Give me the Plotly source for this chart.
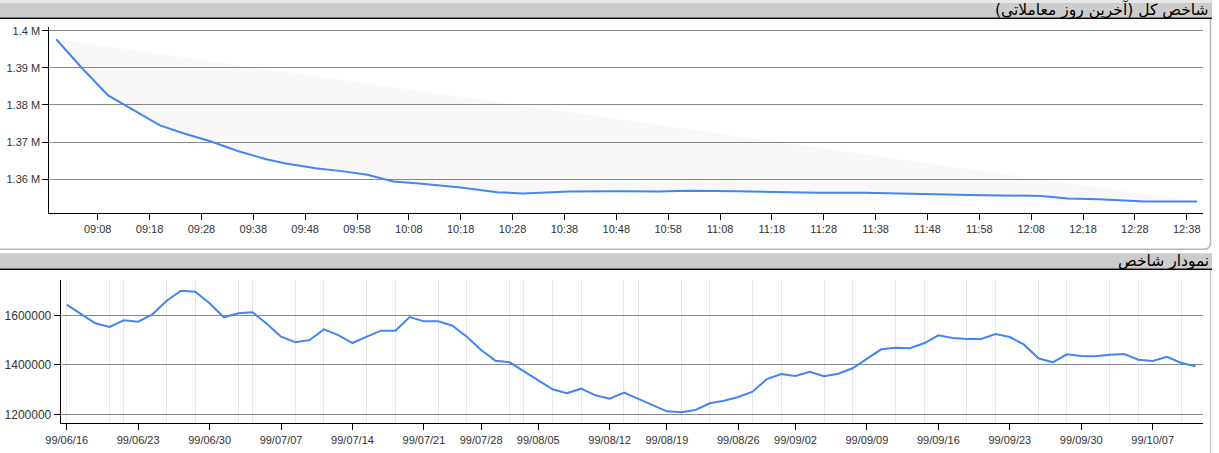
import plotly.graph_objects as go

W, H = 1219, 453

# ---------------- Top chart data (intraday index) ----------------
top_times = ["09:00:00", "09:05:00", "09:10:00", "09:14:00", "09:20:00", "09:24:30",
             "09:30:00", "09:35:00", "09:40:30", "09:44:00", "09:50:00", "09:55:00",
             "10:00:00", "10:05:00", "10:10:00", "10:18:00", "10:25:00", "10:30:00",
             "10:39:00", "10:49:00", "10:56:00", "11:02:00", "11:11:00", "11:27:00",
             "11:36:00", "11:56:00", "12:10:00", "12:15:00", "12:21:00", "12:30:00",
             "12:40:00"]
top_values = [1397700, 1389900, 1382600, 1379400, 1374500, 1372400,
              1370100, 1367600, 1365400, 1364300, 1363000, 1362200,
              1361200, 1359400, 1358900, 1357800, 1356500, 1356200,
              1356700, 1356800, 1356700, 1356900, 1356800, 1356400,
              1356400, 1355800, 1355500, 1354800, 1354600, 1354000,
              1354000]
top_ytick_vals = [1360000, 1370000, 1380000, 1390000, 1400000]
top_ytick_text = ["1.36 M", "1.37 M", "1.38 M", "1.39 M", "1.4 M"]
top_title = "شاخص کل (آخرین روز معاملاتی)"

# ---------------- Bottom chart data (daily index) ----------------
bottom_values = [1642800, 1605000, 1567700, 1552700, 1579800, 1574200, 1604000, 1659000,
                 1699400, 1695400, 1648500, 1592000, 1608000, 1612000, 1566000, 1513500,
                 1491000, 1500000, 1543000, 1520000, 1488000, 1513500, 1538000, 1538000,
                 1593000, 1575600, 1575600, 1558000, 1513500, 1460000, 1416700, 1410000,
                 1373800, 1337400, 1301000, 1285000, 1303500, 1276800, 1262700, 1287400,
                 1262000, 1237600, 1212100, 1208000, 1217400, 1244400, 1255000, 1270000,
                 1291400, 1342600, 1362800, 1354700, 1372000, 1353500, 1364000, 1385800,
                 1423400, 1462600, 1469000, 1466700, 1486900, 1519200, 1508300, 1504300,
                 1504300, 1524500, 1512300, 1481300, 1426300, 1410000, 1442400, 1435600,
                 1434300, 1440800, 1443600, 1420600, 1415400, 1432700, 1407300, 1394000]
bottom_days = list(range(len(bottom_values)))
bottom_tick_pos = [0, 5, 10, 15, 20, 25, 29, 33, 38, 42, 47, 51, 56, 61, 66, 71, 76]
bottom_tick_labels = ["99/06/16", "99/06/23", "99/06/30", "99/07/07", "99/07/14",
                      "99/07/21", "99/07/28", "99/08/05", "99/08/12", "99/08/19",
                      "99/08/26", "99/09/02", "99/09/09", "99/09/16", "99/09/23",
                      "99/09/30", "99/10/07"]
bottom_vgrid_pos = [0, 3, 4, 7, 9, 12, 13, 16, 18, 21, 23, 26, 28, 31, 32, 34, 36, 39, 40,
                    43, 45, 48, 50, 53, 55, 58, 60, 63, 65, 68, 70, 73, 75, 78]
bottom_ytick_vals = [1200000, 1400000, 1600000]
bottom_title = "نمودار شاخص"

DAY = "2020-01-01 "
top_x = [DAY + t for t in top_times]


def X(px):
    return px / W


def Y(py):
    return 1 - py / H


LINE = "#4285F4"
GRID = "#8a8a8a"
TICKFONT = dict(family="Liberation Sans, Arial, sans-serif", size=11, color="#333333")

fig = go.Figure()

# chord between first and last point (base of the shaded area)
fig.add_trace(go.Scatter(x=[top_x[0], top_x[-1]], y=[top_values[0], top_values[-1]],
                         mode="lines", line=dict(width=0, color="rgba(0,0,0,0)"),
                         hoverinfo="skip", showlegend=False, xaxis="x", yaxis="y"))
fig.add_trace(go.Scatter(x=top_x, y=top_values, mode="lines",
                         line=dict(color=LINE, width=2), fill="tonexty",
                         fillcolor="rgba(0,0,0,0.028)", showlegend=False,
                         xaxis="x", yaxis="y"))
fig.add_trace(go.Scatter(x=bottom_days, y=bottom_values, mode="lines",
                         line=dict(color=LINE, width=2), showlegend=False,
                         xaxis="x2", yaxis="y2"))

# ranges derived from pixel geometry
top_xr = [DAY + "08:58:40", DAY + "12:41:08"]
top_yr = [1350925, 1401077]
bot_xr = [-0.42, 79.5]
bot_yr = [1163636, 1742626]

common = dict(showline=True, linecolor="black", linewidth=1, ticks="outside", ticklen=6,
              tickcolor="black", zeroline=False, automargin=False)

fig.update_layout(
    width=W, height=H,
    margin=dict(l=0, r=0, t=0, b=0, autoexpand=False),
    paper_bgcolor="white", plot_bgcolor="white",
    xaxis=dict(domain=[X(49.3), X(1203)], anchor="y", type="date", range=top_xr,
               tick0=DAY + "09:08:00", dtick=600000, tickformat="%H:%M",
               showgrid=False, tickfont=TICKFONT, **common),
    yaxis=dict(domain=[Y(213), Y(26.7)], anchor="x", range=top_yr,
               tickmode="array", tickvals=top_ytick_vals, ticktext=top_ytick_text,
               showgrid=True, gridcolor=GRID, gridwidth=1, tickfont=TICKFONT, **common),
    xaxis2=dict(domain=[X(60.7), X(1202.7)], anchor="y2", range=bot_xr,
                tickmode="array", tickvals=bottom_tick_pos, ticktext=bottom_tick_labels,
                showgrid=False, tickfont=TICKFONT,
                minor=dict(tickmode="array", tickvals=bottom_vgrid_pos, showgrid=True,
                           gridcolor="#e6e6e6", gridwidth=1, ticks=""),
                **common),
    yaxis2=dict(domain=[Y(423.3), Y(280)], anchor="x2", range=bot_yr,
                tickmode="array", tickvals=bottom_ytick_vals, tickformat="d",
                showgrid=True, gridcolor=GRID, gridwidth=1,
                tickfont=dict(family="Liberation Sans, Arial, sans-serif", size=12,
                              color="#333333"),
                **common),
)

shapes = []
# faint top strip
shapes.append(dict(type="rect", xref="paper", yref="paper", x0=0, x1=X(1213),
                   y0=Y(2.7), y1=Y(0), fillcolor="#e8e8e8", line=dict(width=0), layer="below"))
# headers
for top, bot in [(2.7, 17.4), (253.3, 268.4)]:
    shapes.append(dict(type="rect", xref="paper", yref="paper", x0=0, x1=X(1212),
                       y0=Y(bot), y1=Y(top), fillcolor="#cccccc", line=dict(width=0),
                       layer="below"))
    shapes.append(dict(type="line", xref="paper", yref="paper", x0=0, x1=X(1212),
                       y0=Y(bot + 0.8), y1=Y(bot + 0.8), line=dict(color="black", width=1.5)))
# top panel rounded border (right + bottom)
path = (f"M 0,{Y(249.2)} L {X(1204)},{Y(249.2)} "
        f"Q {X(1210.5)},{Y(249.2)} {X(1210.5)},{Y(243)} L {X(1210.5)},{Y(19)}")
shapes.append(dict(type="path", xref="paper", yref="paper", path=path,
                   line=dict(color="#b5b5b5", width=1.5), layer="below"))
# bottom panel right border
shapes.append(dict(type="line", xref="paper", yref="paper", x0=X(1210.5), x1=X(1210.5),
                   y0=Y(453), y1=Y(270), line=dict(color="#c8c8c8", width=1.5), layer="below"))

annotations = [
    dict(text=top_title, xref="paper", yref="paper", x=X(1211), y=Y(10),
         xanchor="right", yanchor="middle", showarrow=False,
         font=dict(family="DejaVu Sans, sans-serif", size=15.5, color="black")),
    dict(text=bottom_title, xref="paper", yref="paper", x=X(1211), y=Y(261),
         xanchor="right", yanchor="middle", showarrow=False,
         font=dict(family="DejaVu Sans, sans-serif", size=15.5, color="black")),
]

fig.update_layout(shapes=shapes, annotations=annotations)
fig.write_html("out.html", config={"displayModeBar": False},
               post_script="document.body.style.margin='0';")
